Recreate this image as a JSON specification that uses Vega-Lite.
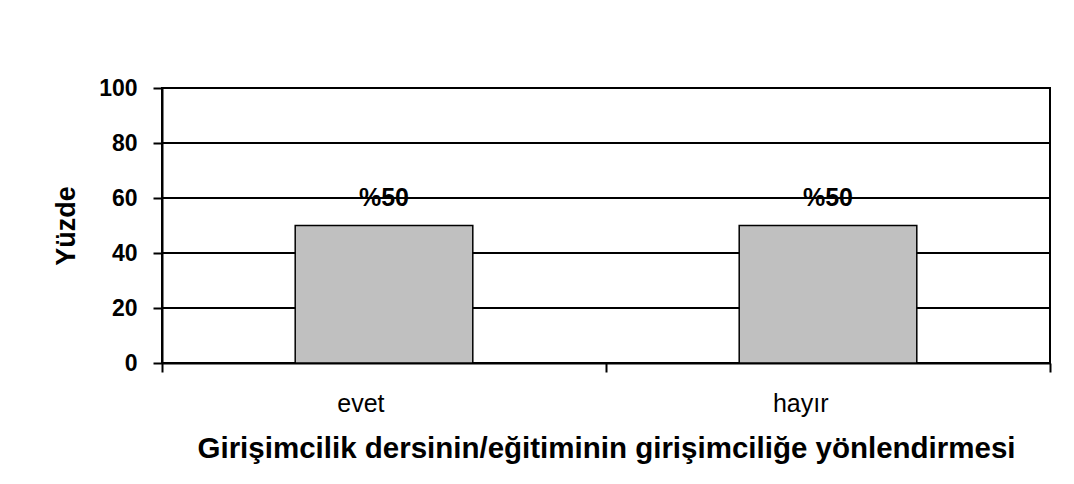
{
  "$schema": "https://vega.github.io/schema/vega-lite/v6.json",
  "autosize": "none",
  "width": 888,
  "height": 275,
  "padding": {"left": 162, "top": 88, "right": 24, "bottom": 121},
  "background": "white",
  "datasets": {
    "bars": [
      {"cevap": "evet", "yuzde": 50, "etiket": "%50"},
      {"cevap": "hayır", "yuzde": 50, "etiket": "%50"}
    ],
    "grid": [{"g": 20}, {"g": 40}, {"g": 60}, {"g": 80}]
  },
  "config": {
    "view": {"stroke": "black", "strokeWidth": 2},
    "font": "Liberation Sans"
  },
  "layer": [
    {
      "data": {"name": "bars"},
      "mark": {"type": "text", "font": "Liberation Sans", "fontWeight": "bold", "fontSize": 25, "baseline": "alphabetic", "dy": -20, "color": "black"},
      "encoding": {
        "x": {"field": "cevap", "type": "nominal", "sort": null},
        "y": {"field": "yuzde", "type": "quantitative"},
        "text": {"field": "etiket"}
      }
    },
    {
      "data": {"name": "grid"},
      "mark": {"type": "rule", "color": "black", "strokeWidth": 2},
      "encoding": {
        "y": {"field": "g", "type": "quantitative"}
      }
    },
    {
      "data": {"name": "bars"},
      "mark": {"type": "bar", "fill": "#C0C0C0", "stroke": "black", "strokeWidth": 1.5, "width": {"band": 0.4}},
      "encoding": {
        "x": {
          "field": "cevap", "type": "nominal", "sort": null,
          "scale": {"paddingInner": 0, "paddingOuter": 0},
          "axis": {
            "title": "Girişimcilik dersinin/eğitiminin girişimciliğe yönlendirmesi",
            "titleFont": "Liberation Sans", "titleFontSize": 29.5, "titleFontWeight": "bold", "titleColor": "black",
            "titlePadding": 18,
            "labelFont": "Liberation Sans", "labelFontSize": 25, "labelFontWeight": "normal", "labelColor": "black",
            "labelAngle": 0, "labelPadding": 31,
            "tickBand": "extent", "tickSize": 9, "tickWidth": 2, "tickColor": "black",
            "domainColor": "black", "domainWidth": 2, "grid": false
          }
        },
        "y": {
          "field": "yuzde", "type": "quantitative",
          "scale": {"domain": [0, 100], "nice": false},
          "axis": {
            "title": "Yüzde",
            "values": [0, 20, 40, 60, 80, 100],
            "titleFont": "Liberation Sans", "titleFontSize": 27, "titleFontWeight": "bold", "titleColor": "black",
            "titlePadding": 18,
            "labelFont": "Liberation Sans", "labelFontSize": 23, "labelFontWeight": "bold", "labelColor": "black",
            "labelPadding": 16,
            "tickSize": 9, "tickWidth": 2, "tickColor": "black",
            "domainColor": "black", "domainWidth": 2, "grid": false
          }
        }
      }
    }
  ]
}
